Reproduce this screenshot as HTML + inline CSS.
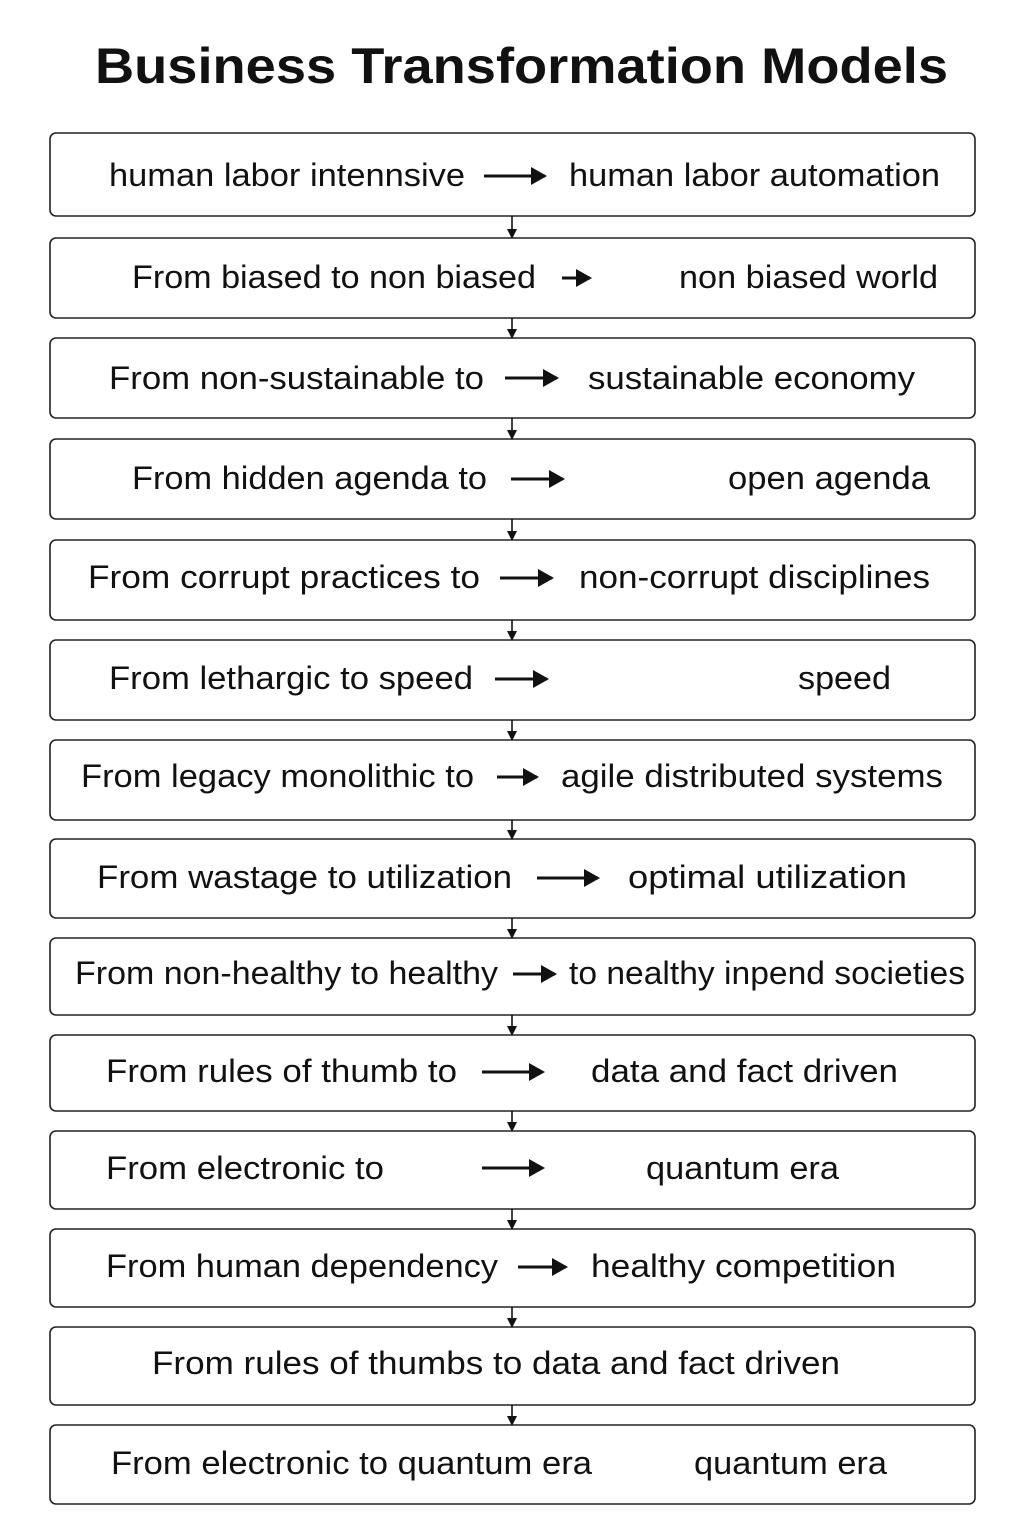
<!DOCTYPE html>
<html><head><meta charset="utf-8"><style>
html,body{margin:0;padding:0;background:#fff;}
svg{display:block;}
text{font-family:"Liberation Sans",sans-serif;fill:#111;}
</style></head><body>
<svg width="1024" height="1536" viewBox="0 0 1024 1536" xmlns="http://www.w3.org/2000/svg">
<defs>
<marker id="h" markerWidth="10" markerHeight="10" refX="8" refY="5" orient="auto" markerUnits="userSpaceOnUse"><path d="M0,0 L10,5 L0,10 Z" fill="#111"/></marker>
<marker id="H" markerWidth="16" markerHeight="18" refX="14" refY="9" orient="auto" markerUnits="userSpaceOnUse"><path d="M0,0 L16,9 L0,18 Z" fill="#111"/></marker>
</defs>
<text x="95" y="83" font-size="50" font-weight="bold" textLength="853" lengthAdjust="spacingAndGlyphs">Business Transformation Models</text>
<g fill="none" stroke="#222" stroke-width="1.6">
<rect x="50" y="133" width="925" height="83" rx="6"/>
<rect x="50" y="238" width="925" height="80" rx="6"/>
<rect x="50" y="338" width="925" height="80" rx="6"/>
<rect x="50" y="439" width="925" height="80" rx="6"/>
<rect x="50" y="540" width="925" height="80" rx="6"/>
<rect x="50" y="640" width="925" height="80" rx="6"/>
<rect x="50" y="740" width="925" height="80" rx="6"/>
<rect x="50" y="839" width="925" height="79" rx="6"/>
<rect x="50" y="938" width="925" height="77" rx="6"/>
<rect x="50" y="1035" width="925" height="76" rx="6"/>
<rect x="50" y="1131" width="925" height="78" rx="6"/>
<rect x="50" y="1229" width="925" height="78" rx="6"/>
<rect x="50" y="1327" width="925" height="78" rx="6"/>
<rect x="50" y="1425" width="925" height="79" rx="6"/>
</g>
<g stroke="#111" stroke-width="1.6" marker-end="url(#h)">
<line x1="512" y1="216" x2="512" y2="237"/>
<line x1="512" y1="318" x2="512" y2="337"/>
<line x1="512" y1="418" x2="512" y2="438"/>
<line x1="512" y1="519" x2="512" y2="539"/>
<line x1="512" y1="620" x2="512" y2="639"/>
<line x1="512" y1="720" x2="512" y2="739"/>
<line x1="512" y1="820" x2="512" y2="838"/>
<line x1="512" y1="918" x2="512" y2="937"/>
<line x1="512" y1="1015" x2="512" y2="1034"/>
<line x1="512" y1="1111" x2="512" y2="1130"/>
<line x1="512" y1="1209" x2="512" y2="1228"/>
<line x1="512" y1="1307" x2="512" y2="1326"/>
<line x1="512" y1="1405" x2="512" y2="1424"/>
</g>
<g stroke="#111" stroke-width="3" marker-end="url(#H)">
<line x1="484" y1="176" x2="545" y2="176"/>
<line x1="562" y1="278" x2="590" y2="278"/>
<line x1="505" y1="378" x2="557" y2="378"/>
<line x1="511" y1="479" x2="563" y2="479"/>
<line x1="500" y1="578" x2="552" y2="578"/>
<line x1="495" y1="679" x2="547" y2="679"/>
<line x1="497" y1="777" x2="537" y2="777"/>
<line x1="537" y1="878" x2="598" y2="878"/>
<line x1="513" y1="974" x2="555" y2="974"/>
<line x1="482" y1="1072" x2="543" y2="1072"/>
<line x1="482" y1="1168" x2="543" y2="1168"/>
<line x1="518" y1="1267" x2="566" y2="1267"/>
</g>
<g font-size="32" lengthAdjust="spacingAndGlyphs">
<text x="109" y="186" textLength="356" lengthAdjust="spacingAndGlyphs">human labor intennsive</text>
<text x="569" y="186" textLength="371" lengthAdjust="spacingAndGlyphs">human labor automation</text>
<text x="132" y="288" textLength="404" lengthAdjust="spacingAndGlyphs">From biased to non biased</text>
<text x="679" y="288" textLength="259" lengthAdjust="spacingAndGlyphs">non biased world</text>
<text x="109" y="389" textLength="375" lengthAdjust="spacingAndGlyphs">From non-sustainable to</text>
<text x="588" y="389" textLength="327" lengthAdjust="spacingAndGlyphs">sustainable economy</text>
<text x="132" y="489" textLength="355" lengthAdjust="spacingAndGlyphs">From hidden agenda to</text>
<text x="728" y="489" textLength="202" lengthAdjust="spacingAndGlyphs">open agenda</text>
<text x="88" y="588" textLength="392" lengthAdjust="spacingAndGlyphs">From corrupt practices to</text>
<text x="579" y="588" textLength="351" lengthAdjust="spacingAndGlyphs">non-corrupt disciplines</text>
<text x="109" y="689" textLength="364" lengthAdjust="spacingAndGlyphs">From lethargic to speed</text>
<text x="798" y="689" textLength="93" lengthAdjust="spacingAndGlyphs">speed</text>
<text x="81" y="787" textLength="393" lengthAdjust="spacingAndGlyphs">From legacy monolithic to</text>
<text x="561" y="787" textLength="382" lengthAdjust="spacingAndGlyphs">agile distributed systems</text>
<text x="97" y="888" textLength="415" lengthAdjust="spacingAndGlyphs">From wastage to utilization</text>
<text x="628" y="888" textLength="279" lengthAdjust="spacingAndGlyphs">optimal utilization</text>
<text x="75" y="984" textLength="423" lengthAdjust="spacingAndGlyphs">From non-healthy to healthy</text>
<text x="569" y="984" textLength="396" lengthAdjust="spacingAndGlyphs">to nealthy inpend societies</text>
<text x="106" y="1082" textLength="351" lengthAdjust="spacingAndGlyphs">From rules of thumb to</text>
<text x="591" y="1082" textLength="307" lengthAdjust="spacingAndGlyphs">data and fact driven</text>
<text x="106" y="1179" textLength="278" lengthAdjust="spacingAndGlyphs">From electronic to</text>
<text x="646" y="1179" textLength="193" lengthAdjust="spacingAndGlyphs">quantum era</text>
<text x="106" y="1277" textLength="392" lengthAdjust="spacingAndGlyphs">From human dependency</text>
<text x="591" y="1277" textLength="305" lengthAdjust="spacingAndGlyphs">healthy competition</text>
<text x="152" y="1374" textLength="688" lengthAdjust="spacingAndGlyphs">From rules of thumbs to data and fact driven</text>
<text x="111" y="1474" textLength="481" lengthAdjust="spacingAndGlyphs">From electronic to quantum era</text>
<text x="694" y="1474" textLength="193" lengthAdjust="spacingAndGlyphs">quantum era</text>
</g>
</svg>
</body></html>
